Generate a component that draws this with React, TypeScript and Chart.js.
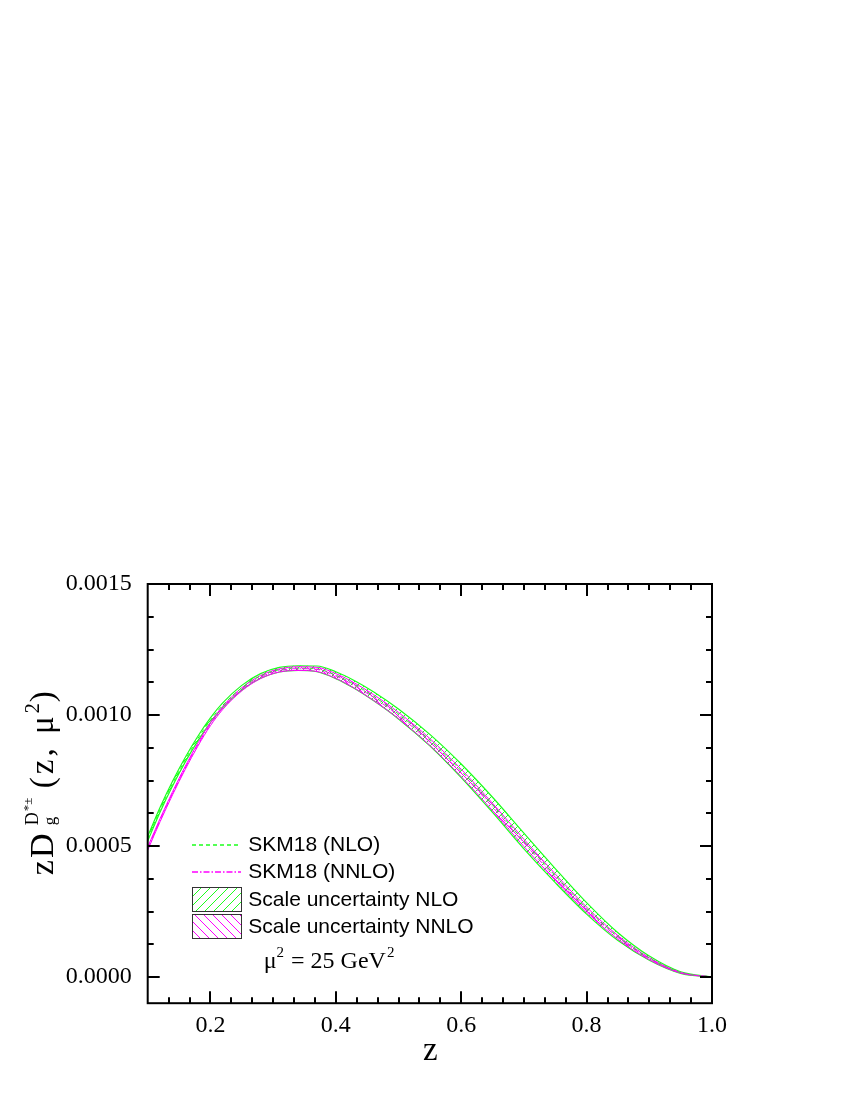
import React, { useEffect, useRef } from "react";
import { Chart, registerables } from "chart.js";

Chart.register(...registerables);

// ---------- data ----------
const zValues = [
  0.1, 0.12, 0.14, 0.16, 0.18, 0.2, 0.22, 0.25, 0.28, 0.31, 0.34, 0.37, 0.4,
  0.43, 0.46, 0.5, 0.55, 0.6, 0.65, 0.7, 0.75, 0.8, 0.85, 0.9, 0.95, 1.0,
];

const nloCentral = [
  0.000528, 0.00064, 0.00074, 0.00083, 0.00091, 0.00098, 0.001038, 0.001104,
  0.001149, 0.001173, 0.001179, 0.001176, 0.001152, 0.001116, 0.001072,
  0.001004, 0.000904, 0.000787, 0.000657, 0.000519, 0.000387, 0.000262,
  0.000154, 0.000072, 0.000017, 0.0,
];
const nloLow = [
  0.000519, 0.000631, 0.000731, 0.000821, 0.000901, 0.000971, 0.001029,
  0.001095, 0.00114, 0.001164, 0.00117, 0.001165, 0.001139, 0.001101,
  0.001055, 0.000985, 0.000882, 0.000761, 0.000628, 0.000489, 0.00036,
  0.00024, 0.000139, 0.000064, 0.000014, 0.0,
];
const nloHigh = [
  0.000537, 0.000649, 0.000749, 0.000839, 0.000919, 0.000989, 0.001047,
  0.001113, 0.001158, 0.001182, 0.001188, 0.001187, 0.001165, 0.001131,
  0.001089, 0.001023, 0.000926, 0.000813, 0.000686, 0.000549, 0.000414,
  0.000284, 0.000169, 0.00008, 0.00002, 0.0,
];

const nnloCentral = [
  0.00049, 0.0006, 0.000703, 0.000799, 0.000887, 0.000965, 0.001028,
  0.001098, 0.001145, 0.00117, 0.001177, 0.001174, 0.001149, 0.001112,
  0.001067, 0.000998, 0.000897, 0.000779, 0.000649, 0.000512, 0.000381,
  0.000257, 0.000151, 0.00007, 0.000016, 0.0,
];
const nnloLow = [
  0.000484, 0.000594, 0.000697, 0.000793, 0.000881, 0.000959, 0.001022,
  0.001092, 0.001139, 0.001164, 0.00117, 0.001166, 0.00114, 0.001102,
  0.001056, 0.000986, 0.000884, 0.000765, 0.000635, 0.000498, 0.000369,
  0.000247, 0.000144, 0.000066, 0.000015, 0.0,
];
const nnloHigh = [
  0.000496, 0.000606, 0.000709, 0.000805, 0.000893, 0.000971, 0.001034,
  0.001104, 0.001151, 0.001176, 0.001184, 0.001182, 0.001158, 0.001122,
  0.001078, 0.00101, 0.00091, 0.000793, 0.000663, 0.000526, 0.000393,
  0.000267, 0.000158, 0.000074, 0.000017, 0.0,
];

const xTickValues = [0.2, 0.4, 0.6, 0.8, 1.0];
const xTickLabels = ["0.2", "0.4", "0.6", "0.8", "1.0"];
const yTickValues = [0.0, 0.0005, 0.001, 0.0015];
const yTickLabels = ["0.0000", "0.0005", "0.0010", "0.0015"];

const legendLabels = [
  "SKM18 (NLO)",
  "SKM18 (NNLO)",
  "Scale uncertainty NLO",
  "Scale uncertainty NNLO",
];
const scaleNoteParts = ["\u03bc", "2", " = 25 GeV", "2"];
const xTitle = "z";
const yTitleParts = ["zD", "g", "D", "*\u00b1", "(z, \u03bc", "2", ")"];

// ---------- styling ----------
const SERIF = "'Liberation Serif', 'Times New Roman', serif";
const SANS = "'Liberation Sans', Arial, sans-serif";
const GREEN = "#1cff1c";
const MAGENTA = "#ff00ff";

function makeHatch(color: string, forward: boolean, size: number) {
  const c = document.createElement("canvas");
  c.width = size;
  c.height = size;
  const g = c.getContext("2d")!;
  g.strokeStyle = color;
  g.lineWidth = 1;
  g.beginPath();
  for (const o of [-size, 0, size]) {
    if (forward) {
      g.moveTo(o, size);
      g.lineTo(o + size, 0);
    } else {
      g.moveTo(o, 0);
      g.lineTo(o + size, size);
    }
  }
  g.stroke();
  return g.createPattern(c, "repeat")!;
}

const pts = (arr: number[]) => zValues.map((z, i) => ({ x: z, y: arr[i] }));

const decorPlugin = {
  id: "decor",
  afterDraw(chart: any) {
    const { ctx, chartArea: ca, scales } = chart;
    const xs = scales.x;
    const ys = scales.y;
    ctx.save();

    // frame
    ctx.strokeStyle = "#000";
    ctx.lineWidth = 2;
    ctx.strokeRect(ca.left, ca.top, ca.right - ca.left, ca.bottom - ca.top);

    const line = (x1: number, y1: number, x2: number, y2: number) => {
      ctx.beginPath();
      ctx.moveTo(x1, y1);
      ctx.lineTo(x2, y2);
      ctx.stroke();
    };

    // x ticks (inward, bottom and top)
    const xMinorStep = 0.2 / 6;
    for (let k = 1; k < 27; k++) {
      const v = 0.1 + k * xMinorStep;
      const isMajor = xTickValues.some((m) => Math.abs(m - v) < 1e-6);
      const len = isMajor ? 12 : 6;
      const px = Math.round(xs.getPixelForValue(v));
      line(px, ca.bottom, px, ca.bottom - len);
      line(px, ca.top, px, ca.top + len);
    }
    // y ticks (inward, left and right)
    const yMinorStep = 0.000125;
    for (let k = 0; k <= 12; k++) {
      const v = 0.0015 - k * yMinorStep;
      if (v < -0.0001) break;
      const isMajor = yTickValues.some((m) => Math.abs(m - v) < 1e-9);
      const len = isMajor ? 12 : 6;
      const py = Math.round(ys.getPixelForValue(v));
      line(ca.left, py, ca.left + len, py);
      line(ca.right, py, ca.right - len, py);
    }

    // legend
    const lx = Math.round(ca.left + 44);
    const lw = 49;
    const tx = ca.left + 100.6;
    const rows = [ca.top + 260.5, ca.top + 287.5, ca.top + 315, ca.top + 342.5];
    ctx.font = `21px ${SANS}`;
    ctx.fillStyle = "#000";
    ctx.textBaseline = "middle";
    ctx.textAlign = "left";

    ctx.lineWidth = 1.5;
    ctx.strokeStyle = GREEN;
    ctx.setLineDash([4, 3]);
    const r0 = Math.round(rows[0]);
    line(lx, r0, lx + lw, r0);
    ctx.strokeStyle = MAGENTA;
    ctx.setLineDash([6, 2, 1.5, 2]);
    const r1 = Math.round(rows[1]);
    line(lx, r1, lx + lw, r1);
    ctx.setLineDash([]);

    const box = (cy: number, pat: CanvasPattern) => {
      const top = Math.round(cy - 12.5) + 0.5;
      ctx.save();
      ctx.fillStyle = pat;
      ctx.fillRect(lx, top, lw, 24);
      ctx.restore();
      ctx.strokeStyle = "#333";
      ctx.lineWidth = 1;
      ctx.strokeRect(lx + 0.5, top, lw, 24);
    };
    box(rows[2], makeHatch(GREEN, true, 9));
    box(rows[3], makeHatch(MAGENTA, false, 9));

    for (let i = 0; i < legendLabels.length; i++) {
      ctx.fillText(legendLabels[i], tx, rows[i] + 1);
    }

    // mu^2 = 25 GeV^2 note
    ctx.textBaseline = "alphabetic";
    let nx = ca.left + 116;
    const ny = ca.top + 384;
    ctx.font = `24px ${SERIF}`;
    ctx.fillText(scaleNoteParts[0], nx, ny);
    nx += ctx.measureText(scaleNoteParts[0]).width;
    ctx.font = `15px ${SERIF}`;
    ctx.fillText(scaleNoteParts[1], nx, ny - 11);
    nx += ctx.measureText(scaleNoteParts[1]).width + 1;
    ctx.font = `24px ${SERIF}`;
    ctx.fillText(scaleNoteParts[2], nx, ny);
    nx += ctx.measureText(scaleNoteParts[2]).width;
    ctx.font = `15px ${SERIF}`;
    ctx.fillText(scaleNoteParts[3], nx + 1, ny - 11);

    // x title
    ctx.font = `33px ${SERIF}`;
    ctx.textAlign = "center";
    ctx.fillText(xTitle, (ca.left + ca.right) / 2 + 0.5, ca.bottom + 57);

    // y title (rotated)
    ctx.save();
    ctx.translate(53, ca.bottom - 128);
    ctx.rotate(-Math.PI / 2);
    ctx.textAlign = "left";
    ctx.textBaseline = "alphabetic";
    (ctx as any).letterSpacing = "2px";
    ctx.font = `34px ${SERIF}`;
    ctx.fillText(yTitleParts[0], 0, 0);
    (ctx as any).letterSpacing = "0px";
    ctx.font = `17px ${SERIF}`;
    ctx.fillText(yTitleParts[1], 50, 2);
    ctx.font = `18px ${SERIF}`;
    ctx.fillText(yTitleParts[2], 50, -15);
    ctx.font = `13px ${SERIF}`;
    ctx.fillText(yTitleParts[3], 64, -21);
    (ctx as any).letterSpacing = "3px";
    ctx.font = `33px ${SERIF}`;
    let t = 87;
    ctx.fillText(yTitleParts[4], t, 0);
    t += ctx.measureText(yTitleParts[4]).width;
    (ctx as any).letterSpacing = "0px";
    ctx.font = `20px ${SERIF}`;
    ctx.fillText(yTitleParts[5], t, -14);
    t += ctx.measureText(yTitleParts[5]).width + 1;
    ctx.font = `33px ${SERIF}`;
    ctx.fillText(yTitleParts[6], t, 0);
    ctx.restore();

    ctx.restore();
  },
};

export default function App() {
  const ref = useRef<HTMLCanvasElement>(null);

  useEffect(() => {
    const canvas = ref.current!;
    const greenHatch = makeHatch(GREEN, true, 7);
    const magentaHatch = makeHatch(MAGENTA, false, 6);

    const chart = new Chart(canvas, {
      type: "line",
      data: {
        datasets: [
          {
            label: legendLabels[0],
            data: pts(nloCentral),
            borderColor: GREEN,
            borderWidth: 1,
            borderDash: [4, 3],
            fill: false,
            order: 1,
          },
          {
            label: legendLabels[1],
            data: pts(nnloCentral),
            borderColor: MAGENTA,
            borderWidth: 1,
            borderDash: [6, 2, 1, 2],
            fill: false,
            order: 0,
          },
          {
            label: "NLO low",
            data: pts(nloLow),
            borderColor: GREEN,
            borderWidth: 1.2,
            fill: false,
            order: 3,
          },
          {
            label: legendLabels[2],
            data: pts(nloHigh),
            borderColor: GREEN,
            borderWidth: 1.2,
            fill: { target: 2 },
            backgroundColor: greenHatch,
            order: 3,
          },
          {
            label: "NNLO low",
            data: pts(nnloLow),
            borderColor: MAGENTA,
            borderWidth: 1,
            fill: false,
            order: 2,
          },
          {
            label: legendLabels[3],
            data: pts(nnloHigh),
            borderColor: MAGENTA,
            borderWidth: 1,
            fill: { target: 4 },
            backgroundColor: magentaHatch,
            order: 2,
          },
        ] as any,
      },
      options: {
        animation: false,
        responsive: false,
        maintainAspectRatio: false,
        layout: { padding: { left: 0, top: 584, right: 138, bottom: 0 } },
        elements: {
          point: { radius: 0 },
          line: { cubicInterpolationMode: "monotone" },
        },
        plugins: {
          legend: { display: false },
          tooltip: { enabled: false },
        },
        scales: {
          x: {
            type: "linear",
            min: 0.1,
            max: 1.0,
            grid: { display: false },
            border: { display: false },
            afterBuildTicks: (s: any) => {
              s.ticks = xTickValues.map((v) => ({ value: v }));
            },
            afterFit: (s: any) => {
              s.height = 96.8;
            },
            ticks: {
              autoSkip: false,
              maxRotation: 0,
              padding: 0,
              color: "#000",
              font: { family: SERIF, size: 24 },
              callback: (v: any) => {
                const i = xTickValues.findIndex((m) => Math.abs(m - v) < 1e-9);
                return i >= 0 ? xTickLabels[i] : "";
              },
            },
          },
          y: {
            type: "linear",
            min: -0.0001,
            max: 0.0015,
            grid: { display: false },
            border: { display: false },
            afterBuildTicks: (s: any) => {
              s.ticks = yTickValues.map((v) => ({ value: v }));
            },
            afterFit: (s: any) => {
              s.width = 147.7;
            },
            ticks: {
              autoSkip: false,
              padding: 8,
              color: "#000",
              font: { family: SERIF, size: 24 },
              callback: (v: any) => {
                const i = yTickValues.findIndex((m) => Math.abs(m - v) < 1e-12);
                return i >= 0 ? yTickLabels[i] : "";
              },
            },
          },
        },
      } as any,
      plugins: [decorPlugin],
    });

    return () => chart.destroy();
  }, []);

  return (
    <canvas
      ref={ref}
      width={850}
      height={1100}
      style={{ position: "absolute", left: 0, top: 0, width: 850, height: 1100 }}
    />
  );
}
